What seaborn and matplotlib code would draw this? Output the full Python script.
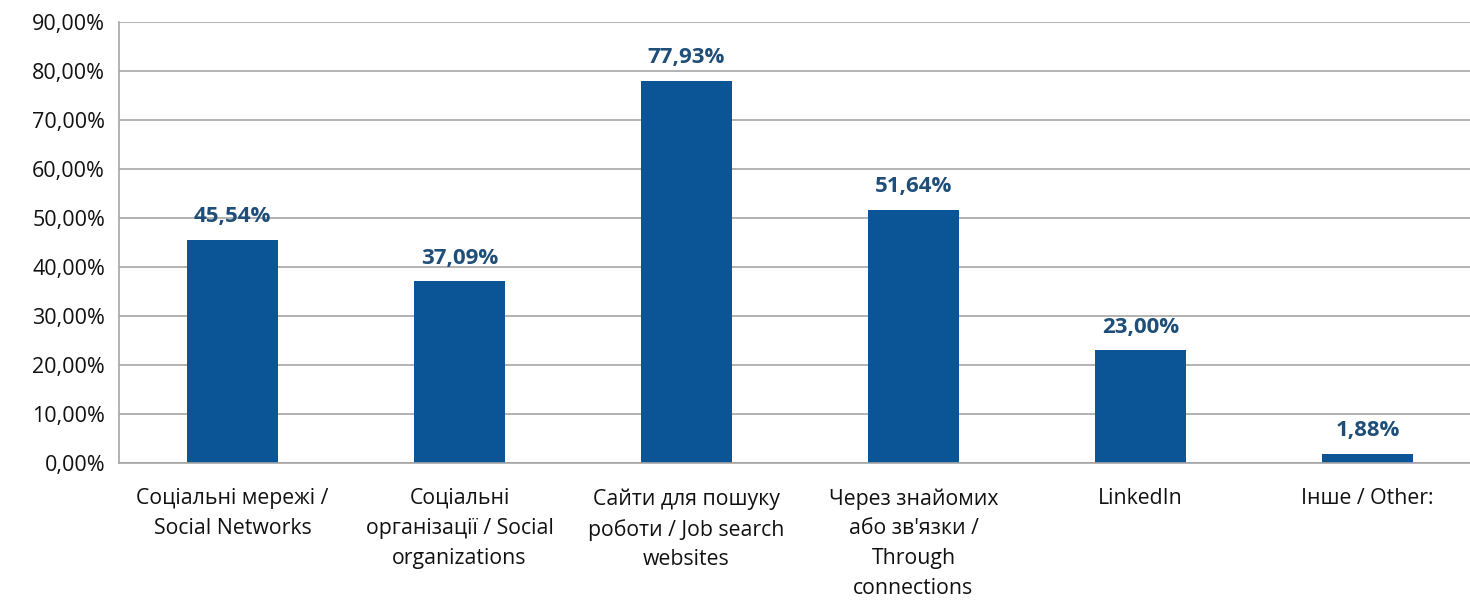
import seaborn as sns
import matplotlib.pyplot as plt
import pandas as pd
from matplotlib.ticker import FuncFormatter, MultipleLocator

categories = [
    'Соціальні мережі /\nSocial Networks',
    'Соціальні\nорганізації / Social\norganizations',
    'Сайти для пошуку\nроботи / Job search\nwebsites',
    'Через знайомих\nабо зв\'язки /\nThrough\nconnections',
    'LinkedIn',
    'Інше / Other:',
]
values = [45.54, 37.09, 77.93, 51.64, 23.00, 1.88]

df = pd.DataFrame({'cat': categories, 'val': values})

sns.set_theme(style='white')
plt.rcParams['font.family'] = ['Open Sans', 'DejaVu Sans']

fig = plt.figure(figsize=(14.7, 6.02), dpi=100)
ax = fig.add_axes([119 / 1470, 1 - 463 / 602, 1362 / 1470, 441 / 602])

sns.barplot(data=df, x='cat', y='val', color='#0B5596', width=0.4, saturation=1,
            linewidth=0, ax=ax)

ax.set_ylim(0, 90)
ax.set_xlim(-0.5, 5.5)
ax.yaxis.set_major_locator(MultipleLocator(10))
ax.yaxis.set_major_formatter(FuncFormatter(lambda v, p: f'{v:.2f}%'.replace('.', ',')))
ax.grid(axis='y', color='#A6A6A6', linewidth=1.2)
ax.set_axisbelow(True)

for s in ['top', 'right']:
    ax.spines[s].set_visible(False)
for s in ['left', 'bottom']:
    ax.spines[s].set_color('#A6A6A6')
    ax.spines[s].set_linewidth(1.2)

ax.tick_params(axis='y', length=7, color='#A6A6A6', width=1.2, labelsize=15.5, pad=3,
               labelcolor='#111111')
ax.tick_params(axis='x', length=0, labelsize=15.3, pad=18, labelcolor='#111111')
ax.set_xticks(range(len(categories)))
ax.set_xticklabels(categories, linespacing=1.55)
ax.set_xticks([i - 0.5 for i in range(len(categories) + 1)], minor=True)
ax.tick_params(axis='x', which='minor', length=8, color='#A6A6A6', width=1.2)

for i, v in enumerate(values):
    ax.text(i, v + 2.6, f'{v:.2f}%'.replace('.', ','), ha='center', va='bottom',
            fontsize=16, fontweight='bold', color='#1F4E79')

ax.set_xlabel('')
ax.set_ylabel('')
fig.savefig('out.png', dpi=100)
